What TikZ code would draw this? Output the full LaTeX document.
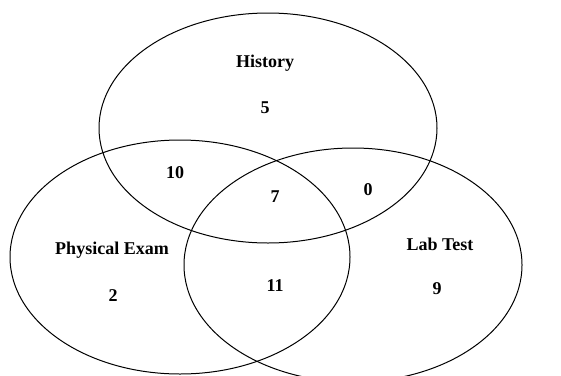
\documentclass[tikz,border=0pt]{standalone}
\usepackage{fontspec}
\setmainfont{Liberation Serif}
\usetikzlibrary{shapes.geometric}
\begin{document}
\begin{tikzpicture}[x=1pt,y=-1pt,
  setshape/.style={ellipse, draw, line width=1pt, inner sep=0pt},
  lbl/.style={font=\bfseries\fontsize{18}{20}\selectfont, inner sep=0pt},
  num/.style={font=\bfseries\fontsize{18}{20}\selectfont, inner sep=0pt}]
\useasboundingbox (0,0) rectangle (561,375);
\clip (0,0) rectangle (561,375);
\node[setshape, minimum width=338pt, minimum height=230pt] (hist) at (268,128) {};
\node[setshape, minimum width=340pt, minimum height=234pt] (phys) at (180,257) {};
\node[setshape, minimum width=338pt, minimum height=234pt] (lab) at (353,265) {};
\node[lbl] (thist) at (265,63) {History};
\node[lbl] (tphys) at (112,250) {Physical Exam};
\node[lbl] (tlab) at (440,244) {Lab Test};
\node[num] (n5) at (265,108) {5};
\node[num] (n10) at (175,173) {10};
\node[num] (n7) at (275,197) {7};
\node[num] (n0) at (368,190) {0};
\node[num] (n2) at (113,296) {2};
\node[num] (n11) at (275,286) {11};
\node[num] (n9) at (437,289) {9};
\end{tikzpicture}
\end{document}
